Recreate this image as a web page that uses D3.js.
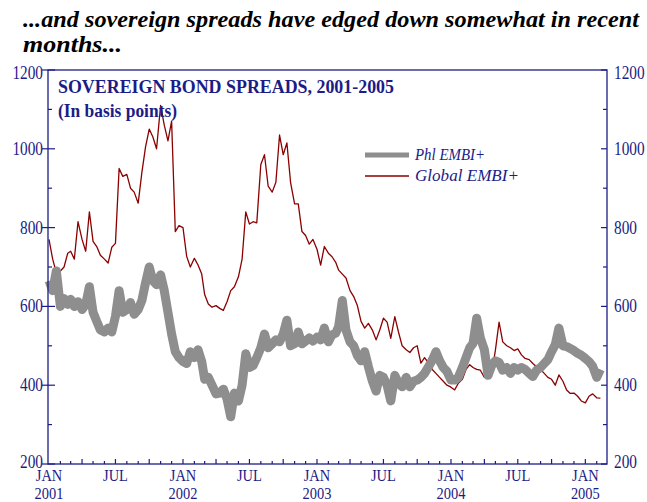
<!DOCTYPE html>
<html>
<head>
<meta charset="utf-8">
<script src="https://cdn.jsdelivr.net/npm/d3@7"></script>
<style>
  body { margin: 0; background: #fff; }
  text { font-family: "Liberation Serif", "Times New Roman", serif; }
</style>
</head>
<body>
<svg id="chart" width="647" height="502"></svg>
<script>
// dekadal readings (1st, 11th, 21st of each month) from Jan 2001, basis points
const phlEmbi = [
  665, 640, 690, 600, 620, 605, 618, 600, 612, 592, 605, 650,
  585, 562, 540, 535, 545, 535, 575, 640, 585, 592, 610, 580,
  592, 615, 660, 700, 665, 655, 680, 640, 585, 530, 485, 470,
  460, 455, 485, 470, 490, 460, 415, 420, 400, 378, 380, 390,
  365, 320, 380, 360, 400, 480, 445, 450, 470, 495, 530, 495,
  505, 515, 510, 530, 565, 500, 505, 535, 505, 512, 520, 512,
  522, 515, 545, 510, 528, 532, 549, 615, 540, 510, 500, 475,
  462, 485, 447, 410, 385, 425, 420, 400, 360, 425, 405, 396,
  420, 396, 410, 413, 420, 430, 447, 464, 485, 462, 445, 435,
  413, 413, 420, 445, 470, 495, 506, 570, 520, 490, 425, 450,
  462, 458, 438, 445, 430, 445, 438, 445, 440, 430, 422, 438,
  445, 455, 465, 485, 503, 545, 500, 498, 493, 488, 481, 476,
  468, 460, 448, 420, 440
]
const globalEmbi = [
  770, 720, 685, 690, 700, 735, 740, 720, 815, 770, 740, 840,
  765, 752, 730, 720, 710, 750, 760, 950, 930, 935, 900, 890,
  862, 940, 1005, 1050, 1030, 1000, 1110, 1060, 1020, 1070, 790, 805,
  800, 727, 700, 722, 705, 682, 630, 606, 598, 602, 595, 590,
  612, 640, 650, 675, 720, 840, 809, 815, 812, 960, 985, 905,
  890, 915, 1035, 985, 1015, 915, 860, 860, 790, 780, 758, 770,
  745, 705, 752, 735, 726, 712, 692, 682, 672, 640, 625, 602,
  562, 545, 557, 540, 515, 540, 570, 560, 519, 574, 535, 500,
  490, 483, 495, 500, 456, 470, 456, 440, 430, 420, 410, 400,
  395, 388, 405, 415, 440, 452, 445, 440, 438, 420, 418, 430,
  489, 560, 510, 500, 495, 488, 492, 477, 468, 465, 455, 447,
  440, 430, 420, 415, 400, 426, 410, 388, 379, 380, 372, 360,
  355, 372, 378, 368, 367
]
const yTicks = [200, 400, 600, 800, 1000, 1200]
const yMinorTicks = [300, 500, 700, 900, 1100]
const monthLabels = {0: "JAN", 6: "JUL"}
const seriesNames = ["Phl EMBI+", "Global EMBI+"]
const seriesColors = ["#8e8e8e", "#8b0000"]

const navy = "#1c1c86"
const sx = 0.85 // glyphs in the original look squeezed sideways

const obsDates = phlEmbi.map(function(d, i) {
  return new Date(2001, Math.floor(i / 3), 1 + 10 * (i % 3))
})

const svg = d3.select("#chart")
const plot = {left: 48, right: 607, top: 70, bottom: 464}

let x = d3.scaleTime()
    .domain([new Date(2001, 0, 1), new Date(2005, 2, 1)])
    .range([plot.left + 1, plot.right])
let y = d3.scaleLinear()
    .domain([200, 1200])
    .range([plot.bottom, plot.top])

function squeezedText(g, px, py, str, size, anchor) {
  return g.append("text")
      .attr("transform", "translate(" + px + "," + py + ") scale(" + sx + ",1)")
      .attr("text-anchor", anchor)
      .style("font-size", size + "px")
      .style("fill", navy)
      .text(str)
}

// heading above the chart
let headLines = ["...and sovereign spreads have edged down somewhat in recent", "months..."]
let headWidths = [616, 99]
headLines.forEach(function(s, i) {
  svg.append("text")
      .attr("x", 23).attr("y", 27 + i * 25)
      .attr("textLength", headWidths[i]).attr("lengthAdjust", "spacingAndGlyphs")
      .style("font-size", "24px").style("font-weight", "bold").style("font-style", "italic")
      .style("fill", "#000")
      .text(s)
})

// series: global underneath, Phl band on top
let line = d3.line()
    .x(function(d, i) { return x(obsDates[i]) })
    .y(function(d) { return y(d) })

svg.append("path")
    .datum(globalEmbi)
    .attr("d", line)
    .attr("fill", "none")
    .attr("stroke", seriesColors[1])
    .attr("stroke-width", 1.3)
    .attr("stroke-linejoin", "round")

svg.append("path")
    .datum(phlEmbi)
    .attr("d", line)
    .attr("fill", "none")
    .attr("stroke", seriesColors[0])
    .attr("stroke-width", 9)
    .attr("stroke-linejoin", "round")

// frame
svg.append("rect")
    .attr("x", plot.left).attr("y", plot.top)
    .attr("width", plot.right - plot.left).attr("height", plot.bottom - plot.top)
    .attr("fill", "none")
    .attr("stroke", navy)
    .attr("stroke-width", 1.3)

// y axes, both sides
let axisG = svg.append("g")
yTicks.forEach(function(t) {
  axisG.append("line")
      .attr("x1", plot.left - 6).attr("x2", plot.left + 7)
      .attr("y1", y(t)).attr("y2", y(t))
      .attr("stroke", navy).attr("stroke-width", 1.2)
  axisG.append("line")
      .attr("x1", plot.right - 6).attr("x2", plot.right)
      .attr("y1", y(t)).attr("y2", y(t))
      .attr("stroke", navy).attr("stroke-width", 1.2)
  let off = t === 1200 ? 3 : (t === 200 ? -2 : 0)
  squeezedText(axisG, plot.left - 5, y(t) + 6 + off, t, 18, "end")
  squeezedText(axisG, plot.right + 7, y(t) + 6 + off, t, 18, "start")
})
yMinorTicks.forEach(function(t) {
  axisG.append("line")
      .attr("x1", plot.left).attr("x2", plot.left + 4)
      .attr("y1", y(t)).attr("y2", y(t))
      .attr("stroke", navy).attr("stroke-width", 1.2)
  axisG.append("line")
      .attr("x1", plot.right - 4).attr("x2", plot.right)
      .attr("y1", y(t)).attr("y2", y(t))
      .attr("stroke", navy).attr("stroke-width", 1.2)
})

// x axis: monthly ticks pointing up, quarters longer
let months = d3.timeMonth.range(new Date(2001, 1, 1), new Date(2005, 2, 1))
months.forEach(function(m) {
  let len = m.getMonth() % 3 === 0 ? 5 : 3
  axisG.append("line")
      .attr("x1", x(m)).attr("x2", x(m))
      .attr("y1", plot.bottom).attr("y2", plot.bottom - len)
      .attr("stroke", navy).attr("stroke-width", 1.2)
})
d3.timeMonth.range(new Date(2001, 0, 1), new Date(2005, 2, 1)).forEach(function(m) {
  let lab = monthLabels[m.getMonth()]
  if (!lab) return
  squeezedText(axisG, x(m), 481, lab, 17, "middle")
  if (m.getMonth() === 0) squeezedText(axisG, x(m), 499, m.getFullYear(), 17, "middle")
})

// chart title inside the frame
svg.append("text")
    .attr("x", 58).attr("y", 93)
    .attr("textLength", 336).attr("lengthAdjust", "spacingAndGlyphs")
    .style("font-size", "19px").style("font-weight", "bold")
    .style("fill", navy)
    .text("SOVEREIGN BOND SPREADS, 2001-2005")
svg.append("text")
    .attr("x", 58).attr("y", 117)
    .attr("textLength", 119).attr("lengthAdjust", "spacingAndGlyphs")
    .style("font-size", "19px").style("font-weight", "bold")
    .style("fill", navy)
    .text("(In basis points)")

// legend
let legend = svg.append("g")
let legendRows = [{y: 155, w: 5, len: 70}, {y: 176, w: 1.3, len: 104}]
seriesNames.forEach(function(name, i) {
  legend.append("line")
      .attr("x1", 365).attr("x2", 409)
      .attr("y1", legendRows[i].y).attr("y2", legendRows[i].y)
      .attr("stroke", seriesColors[i])
      .attr("stroke-width", legendRows[i].w)
  legend.append("text")
      .attr("x", 415).attr("y", legendRows[i].y + 5)
      .attr("textLength", legendRows[i].len).attr("lengthAdjust", "spacingAndGlyphs")
      .style("font-size", "17px").style("font-style", "italic")
      .style("fill", navy)
      .text(name)
})
</script>
</body>
</html>
